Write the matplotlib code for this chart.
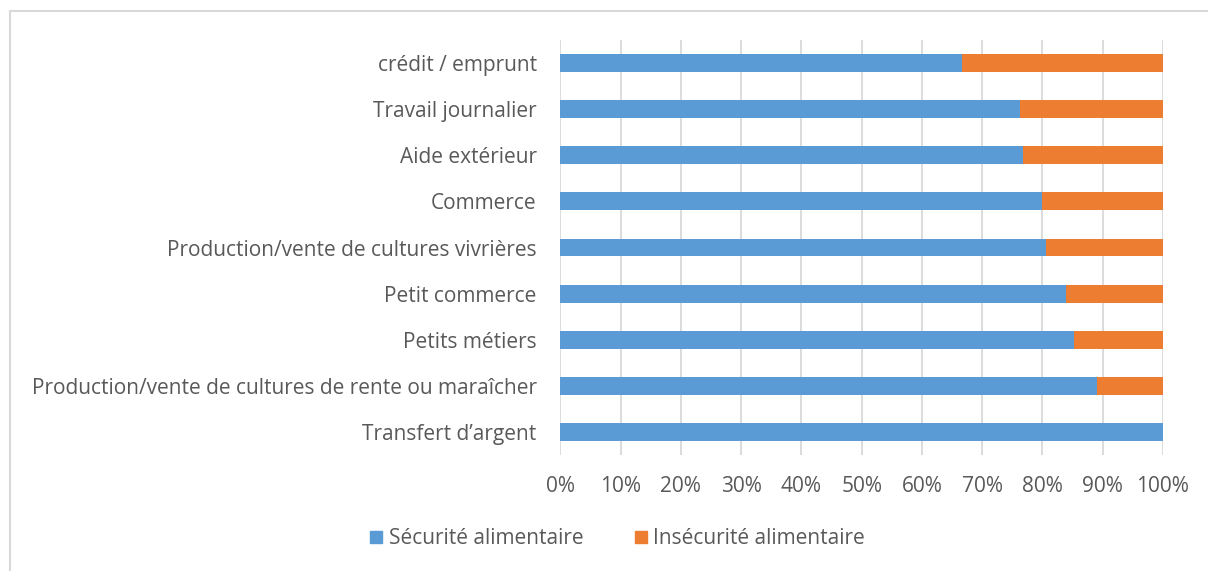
import matplotlib
matplotlib.use("Agg")
import matplotlib.pyplot as plt
from matplotlib.lines import Line2D
from matplotlib.ticker import FuncFormatter, MultipleLocator

categories = [
    "Transfert d\u2019argent",
    "Production/vente de cultures de rente ou mara\u00eecher",
    "Petits m\u00e9tiers",
    "Petit commerce",
    "Production/vente de cultures vivri\u00e8res",
    "Commerce",
    "Aide ext\u00e9rieur",
    "Travail journalier",
    "cr\u00e9dit / emprunt",
]
securite = [100.0, 89.1, 85.3, 83.9, 80.6, 80.0, 76.8, 76.2, 66.7]
insecurite = [0.0, 10.9, 14.7, 16.1, 19.4, 20.0, 23.2, 23.8, 33.3]
series_names = ["S\u00e9curit\u00e9 alimentaire", "Ins\u00e9curit\u00e9 alimentaire"]

plt.rcParams['font.family'] = ['Open Sans', 'DejaVu Sans']
text_color = "#595959"
fs = 15

fig = plt.figure(figsize=(12.08, 5.71), dpi=100)
ax = fig.add_axes([560.3/1208, 1-455/571, (1163-560.3)/1208, 415/571])

y = range(len(categories))
ax.barh(y, securite, height=0.39, color="#5B9BD5", label=series_names[0], zorder=3)
ax.barh(y, insecurite, left=securite, height=0.39, color="#ED7D31", label=series_names[1], zorder=3)

ax.set_xlim(0, 100)
ax.set_ylim(-0.5, len(categories) - 0.5)
ax.set_yticks(list(y))
ax.set_yticklabels(categories, fontsize=fs, color=text_color)
ax.xaxis.set_major_locator(MultipleLocator(10))
ax.xaxis.set_major_formatter(FuncFormatter(lambda v, p: f"{int(round(v))}%"))
ax.tick_params(axis='x', labelsize=fs, labelcolor=text_color, length=0, pad=15)
ax.tick_params(axis='y', length=0, pad=17)
ax.grid(axis='x', color="#D9D9D9", linewidth=1.3, zorder=0)
for s in ax.spines.values():
    s.set_visible(False)

handles = [
    Line2D([], [], marker='s', linestyle='none', markersize=8.5, color="#5B9BD5"),
    Line2D([], [], marker='s', linestyle='none', markersize=8.5, color="#ED7D31"),
]
fig.legend(handles, series_names, loc='center', bbox_to_anchor=(616/1208, 1-539/571),
           ncol=2, frameon=False, fontsize=fs, labelcolor=text_color,
           handletextpad=0.15, columnspacing=2.3, handlelength=0.9)

# outer chart border (top and left)
fig.add_artist(Line2D([10/1208, 1.0], [1-10.5/571, 1-10.5/571], color="#D9D9D9", linewidth=1.5, transform=fig.transFigure))
fig.add_artist(Line2D([10/1208, 10/1208], [0, 1-10.5/571], color="#D9D9D9", linewidth=1.5, transform=fig.transFigure))

fig.savefig("out.png", dpi=100, facecolor="white")
